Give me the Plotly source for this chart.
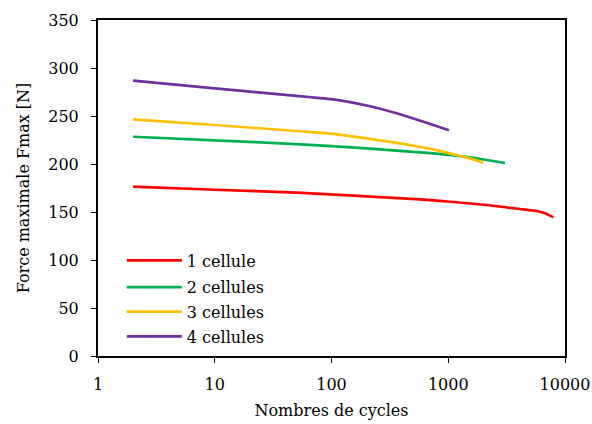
import plotly.graph_objects as go

# Data
x1 = [2, 10, 50, 573, 1105, 2134, 4120, 5720, 6740, 7940]
y1 = [176.4, 173.2, 170.1, 163.2, 160.4, 157.3, 153.1, 151.0, 148.6, 144.4]

x2 = [2, 10, 50, 200, 745, 1535, 3062]
y2 = [228.4, 224.7, 220.8, 216.3, 211.1, 207.0, 201.0]

x3 = [2, 10, 50, 104, 200, 386, 745, 1035, 1535, 1995]
y3 = [246.5, 240.6, 234.4, 231.3, 226.7, 221.5, 215.3, 211.1, 205.9, 201.4]

x4 = [2, 10, 50, 104, 200, 386, 653, 1015]
y4 = [286.8, 278.8, 271.0, 267.3, 260.9, 251.8, 243.0, 235.1]

names = ["1 cellule", "2 cellules", "3 cellules", "4 cellules"]
colors = ["#FF0000", "#00B050", "#FFC000", "#7030A0"]

x_ticks = [1, 10, 100, 1000, 10000]
x_ticktext = ["1", "10", "100", "1000", "10000"]
y_ticks = [0, 50, 100, 150, 200, 250, 300, 350]

font_family = "DejaVu Serif"
fs = 16

legend_ids = ["legend", "legend2", "legend3", "legend4"]
legend_centers = [260.5, 287.2, 311.8, 336.5]  # pixel centres of legend rows

fig = go.Figure()
for xs, ys, n, c, lid in zip([x1, x2, x3, x4], [y1, y2, y3, y4], names, colors, legend_ids):
    fig.add_trace(go.Scatter(x=xs, y=ys, mode="lines", name=n, legend=lid,
                             line=dict(color=c, width=2.7, shape="spline", smoothing=0.3)))

plot_top, plot_h = 20, 336
legend_layout = {}
for lid, cy in zip(legend_ids, legend_centers):
    legend_layout[lid] = dict(x=0.051, y=(plot_top + plot_h - cy) / plot_h,
                              xanchor="left", yanchor="middle",
                              bgcolor="rgba(0,0,0,0)",
                              font=dict(size=fs, family=font_family),
                              itemwidth=55)

fig.update_layout(
    width=592, height=424,
    margin=dict(l=98, r=27, t=20, b=68, autoexpand=False),
    paper_bgcolor="white", plot_bgcolor="white",
    font=dict(family=font_family, size=fs, color="black"),
    showlegend=True,
    **legend_layout,
    xaxis=dict(type="log", range=[0, 4], tickmode="array", tickvals=x_ticks,
               ticktext=x_ticktext, ticks="outside", ticklen=5, tickwidth=1,
               tickcolor="black", showline=True, linecolor="black", linewidth=2,
               mirror=True, showgrid=False, zeroline=False,
               ticklabelstandoff=8, ticklabeloverflow="allow", automargin=False,
               tickfont=dict(size=fs, family=font_family),
               title=dict(text="Nombres de cycles", font=dict(size=fs, family=font_family), standoff=12)),
    yaxis=dict(range=[0, 350], tickmode="array", tickvals=y_ticks,
               ticks="outside", ticklen=5, tickwidth=1, tickcolor="black",
               showline=True, linecolor="black", linewidth=2, mirror=True,
               showgrid=False, zeroline=False, automargin=False,
               ticklabelstandoff=9,
               tickfont=dict(size=fs, family=font_family),
               title=dict(text="Force maximale Fmax [N]", font=dict(size=fs, family=font_family), standoff=15)),
)

fig.write_html("out.html", config={"displayModeBar": False},
               post_script="document.body.style.margin='0';")
